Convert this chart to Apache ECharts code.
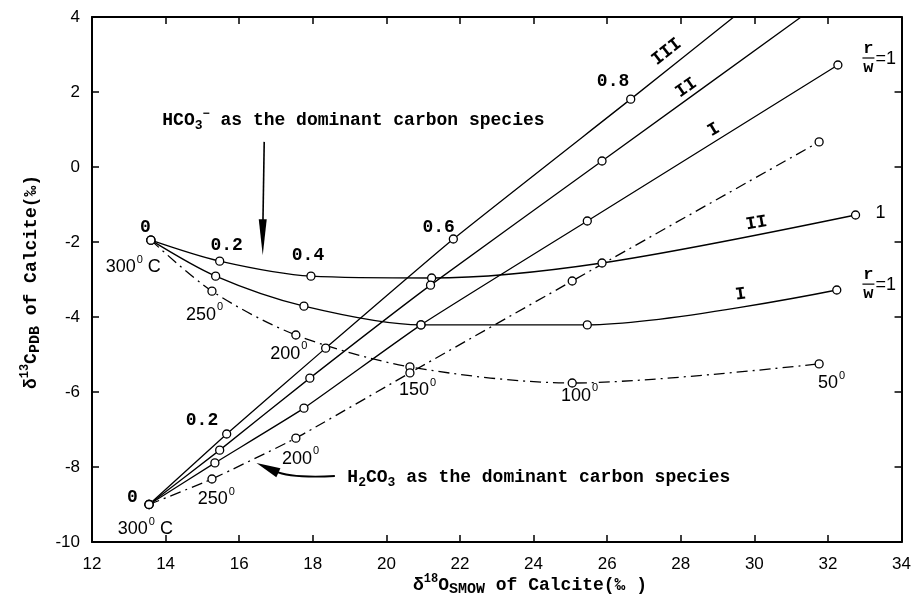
<!DOCTYPE html>
<html><head><meta charset="utf-8">
<script src="https://cdn.jsdelivr.net/npm/echarts@6/dist/echarts.min.js"></script>
<style>html,body{margin:0;padding:0;background:#fff}#c{width:914px;height:609px}</style>
</head><body><div id="c"></div>
<script>
// ---- data ----
const xTickValues = [12,14,16,18,20,22,24,26,28,30,32,34];
const yTickValues = [-10,-8,-6,-4,-2,0,2,4];

// HCO3- dominant (upper group)
const upperII_x = [13.6, 15.47, 17.95, 21.23, 25.86, 32.75];
const upperII_y = [-1.95, -2.51, -2.91, -2.96, -2.56, -1.28];
const upperI_x  = [13.6, 15.36, 17.76, 20.94, 25.46, 32.24];
const upperI_y  = [-1.95, -2.91, -3.71, -4.21, -4.21, -3.28];
const upperDD_x = [13.6, 15.26, 17.54, 20.64, 25.05, 31.76];
const upperDD_y = [-1.95, -3.31, -4.48, -5.33, -5.76, -5.25];
// H2CO3 dominant (lower group)
const lowerIII_x = [13.55, 15.66, 18.35, 21.82, 26.64, 29.44];
const lowerIII_y = [-9.0, -7.12, -4.83, -1.92, 1.81, 4.0];
const lowerII_x  = [13.55, 15.47, 17.92, 21.2, 25.86, 31.27];
const lowerII_y  = [-9.0, -7.55, -5.63, -3.15, 0.16, 4.0];
const lowerI_x   = [13.55, 15.34, 17.76, 20.94, 25.46, 32.27];
const lowerI_y   = [-9.0, -7.89, -6.43, -4.21, -1.44, 2.72];
const lowerDD_x  = [13.55, 15.26, 17.54, 20.64, 25.05, 31.76];
const lowerDD_y  = [-9.0, -8.32, -7.23, -5.49, -3.04, 0.67];

const seriesDefs = [
  {name:'upper II', xs:upperII_x, ys:upperII_y, dash:false, lastMarked:true, smooth:0.3},
  {name:'upper I', xs:upperI_x, ys:upperI_y, dash:false, lastMarked:true, smooth:0.3},
  {name:'upper dash', xs:upperDD_x, ys:upperDD_y, dash:true, lastMarked:true, smooth:0.3},
  {name:'lower III', xs:lowerIII_x, ys:lowerIII_y, dash:false, lastMarked:false, smooth:0.15},
  {name:'lower II', xs:lowerII_x, ys:lowerII_y, dash:false, lastMarked:false, smooth:0.15},
  {name:'lower I', xs:lowerI_x, ys:lowerI_y, dash:false, lastMarked:true, smooth:0.15},
  {name:'lower dash', xs:lowerDD_x, ys:lowerDD_y, dash:true, lastMarked:true, smooth:0.15}
];

const MONO = '"Liberation Mono", "DejaVu Sans Mono", monospace';
const SANS = '"Liberation Sans", Arial, sans-serif';

const chart = echarts.init(document.getElementById('c'), null, {renderer:'canvas'});

const series = seriesDefs.map(d => ({
  type:'line', name:d.name, xAxisIndex:0, yAxisIndex:0,
  smooth:d.smooth,
  symbol:'circle', symbolSize:8,
  itemStyle:{color:'#fff', borderColor:'#000', borderWidth:1.3},
  lineStyle:{color:'#000', width:1.3, type: d.dash ? [11,5,2,5] : 'solid'},
  emphasis:{disabled:true},
  z: 3,
  data: d.xs.map((x,i) => {
    const item = {value:[x, d.ys[i]]};
    if (!d.lastMarked && i === d.xs.length-1) item.symbol = 'none';
    return item;
  })
}));

const axisCommon = {
  type:'value',
  axisLine:{show:true, onZero:false, lineStyle:{color:'#000', width:2}},
  axisTick:{show:true, inside:true, length:7, lineStyle:{color:'#000', width:1.5}},
  splitLine:{show:false}
};

chart.setOption({
  animation:false,
  backgroundColor:'#fff',
  grid:{left:92, right:5, top:17, bottom:67, containLabel:false},
  xAxis:[
    Object.assign({}, axisCommon, {position:'bottom', min:12, max:34, interval:2,
      axisLabel:{color:'#000', fontFamily:SANS, fontSize:17, margin:14,
        formatter: v => xTickValues.includes(v) ? String(v) : ''}}),
    Object.assign({}, axisCommon, {position:'top', min:12, max:34, interval:2, axisLabel:{show:false}})
  ],
  yAxis:[
    Object.assign({}, axisCommon, {position:'left', min:-10, max:4, interval:2,
      axisLabel:{color:'#000', fontFamily:SANS, fontSize:17, margin:12,
        formatter: v => yTickValues.includes(v) ? String(v) : ''}}),
    Object.assign({}, axisCommon, {position:'right', min:-10, max:4, interval:2, axisLabel:{show:false}})
  ],
  series: series
});

// ---- annotations (positions in data coordinates) ----
function P(x,y){ return chart.convertToPixel({xAxisIndex:0, yAxisIndex:0}, [x,y]); }
const deg = Math.PI/180;

function txt(x, y, text, opt) {
  opt = opt || {};
  const p = P(x,y);
  return {
    type:'text', x:p[0], y:p[1], rotation:(opt.rot||0)*deg, z:10,
    style:{
      text:text, fill:'#000',
      fontFamily: opt.family || MONO, fontSize: opt.size || 18,
      fontWeight: opt.weight || 'bold',
      align: opt.align || 'center', verticalAlign:'middle',
      rich: opt.rich
    }
  };
}
const tempRich = {
  a:{fontFamily:SANS, fontSize:18, lineHeight:22, verticalAlign:'bottom'},
  s:{fontFamily:SANS, fontSize:11, lineHeight:22, verticalAlign:'top', padding:[0,0,0,1]}
};
function temp(x, y, t, extra) {
  return txt(x, y, '{a|'+t+'}{s|0}' + (extra ? '{a|'+extra+'}' : ''), {rich:tempRich, family:SANS, weight:'normal'});
}

function fraction(x, y) {
  const p = P(x, y);
  return [
    {type:'text', x:p[0], y:p[1]-10, z:10, style:{text:'r', fill:'#000', fontFamily:MONO, fontWeight:'bold', fontSize:17, align:'center', verticalAlign:'middle'}},
    {type:'line', z:10, shape:{x1:p[0]-6, y1:p[1]-1, x2:p[0]+6, y2:p[1]-1}, style:{stroke:'#000', lineWidth:1.2}},
    {type:'text', x:p[0], y:p[1]+9, z:10, style:{text:'w', fill:'#000', fontFamily:MONO, fontWeight:'bold', fontSize:17, align:'center', verticalAlign:'middle'}},
    {type:'text', x:p[0]+7, y:p[1], z:10, style:{text:'=1', fill:'#000', fontFamily:SANS, fontSize:18, align:'left', verticalAlign:'middle'}}
  ];
}

const g = [];
// upper group labels
g.push(txt(13.45, -1.6, '0'));
g.push(temp(13.12, -2.62, '300', ' C'));
g.push(txt(15.66, -2.08, '0.2'));
g.push(txt(17.87, -2.35, '0.4'));
g.push(temp(15.06, -3.89, '250'));
g.push(temp(17.35, -4.93, '200'));
g.push(txt(21.42, -1.62, '0.6'));
g.push(temp(20.85, -5.9, '150'));
g.push(temp(25.25, -6.05, '100'));
g.push(temp(32.1, -5.72, '50'));
g.push(txt(26.16, 2.27, '0.8'));
g.push(txt(27.62, 3.07, 'III', {rot:38}));
g.push(txt(28.15, 2.11, 'II', {rot:35}));
g.push(txt(28.9, 0.99, 'I', {rot:31}));
g.push(...fraction(33.1, 2.88));
g.push(txt(30.06, -1.5, 'II', {rot:10}));
g.push(txt(33.43, -1.23, '1', {family:SANS, weight:'normal'}));
g.push(txt(29.63, -3.4, 'I', {rot:8}));
g.push(...fraction(33.1, -3.15));
// lower group labels
g.push(txt(14.99, -6.75, '0.2'));
g.push(txt(13.1, -8.8, '0'));
g.push(temp(13.45, -9.6, '300', ' C'));
g.push(temp(15.38, -8.8, '250'));
g.push(temp(17.67, -7.73, '200'));

// species texts
const specRich = {
  m:{fontFamily:MONO, fontWeight:'bold', fontSize:18, lineHeight:24, verticalAlign:'middle'},
  sb:{fontFamily:MONO, fontWeight:'bold', fontSize:13, lineHeight:24, verticalAlign:'bottom'},
  sp:{fontFamily:MONO, fontWeight:'bold', fontSize:12, lineHeight:24, verticalAlign:'top'}
};
g.push(txt(13.91, 1.25, '{m|HCO}{sb|3}{sp|\u2212}{m| as the dominant carbon species}', {align:'left', rich:specRich}));
g.push(txt(18.94, -8.27, '{m|H}{sb|2}{m|CO}{sb|3}{m| as the dominant carbon species}', {align:'left', rich:specRich}));

// vertical arrow
(function(){
  const a = P(16.68, 0.67), t = P(16.64, -2.35);
  g.push({type:'line', z:10, shape:{x1:a[0], y1:a[1], x2:t[0], y2:t[1]-20}, style:{stroke:'#000', lineWidth:1.6}});
  g.push({type:'polygon', z:10, shape:{points:[[t[0],t[1]],[t[0]-4,t[1]-36],[t[0]+4,t[1]-36]]}, style:{fill:'#000'}});
})();
// curved arrow
(function(){
  const s = P(18.6, -8.24), c = P(17.4, -8.3), t = P(16.47, -7.89);
  const dx = t[0]-c[0], dy = t[1]-c[1], L = Math.hypot(dx,dy), ux = dx/L, uy = dy/L;
  const hl = 24, hw = 5;
  const b = [t[0]-ux*hl, t[1]-uy*hl];
  g.push({type:'bezierCurve', z:10, shape:{x1:s[0], y1:s[1], cpx1:c[0], cpy1:c[1], x2:b[0]+ux*4, y2:b[1]+uy*4}, style:{stroke:'#000', lineWidth:1.8, fill:null}});
  g.push({type:'polygon', z:10, shape:{points:[[t[0],t[1]],[b[0]-uy*hw,b[1]+ux*hw],[b[0]+uy*hw,b[1]-ux*hw]]}, style:{fill:'#000'}});
})();

// axis titles
const titleRich = {
  m:{fontFamily:MONO, fontWeight:'bold', fontSize:18, lineHeight:24, verticalAlign:'middle'},
  sp:{fontFamily:MONO, fontWeight:'bold', fontSize:12, lineHeight:24, verticalAlign:'top'},
  sb:{fontFamily:MONO, fontWeight:'bold', fontSize:15, lineHeight:24, verticalAlign:'bottom'}
};
g.push({type:'text', x:31, y:282, rotation:90*deg, z:10,
  style:{text:'{m|\u03b4}{sp|13}{m|C}{sb|PDB}{m| of Calcite(\u2030)}', rich:titleRich, align:'center', verticalAlign:'middle', fill:'#000'}});
g.push({type:'text', x:530, y:585, z:10,
  style:{text:'{m|\u03b4}{sp|18}{m|O}{sb|SMOW}{m| of Calcite(\u2030 )}', rich:titleRich, align:'center', verticalAlign:'middle', fill:'#000'}});

chart.setOption({graphic:{elements:g}});
</script></body></html>
